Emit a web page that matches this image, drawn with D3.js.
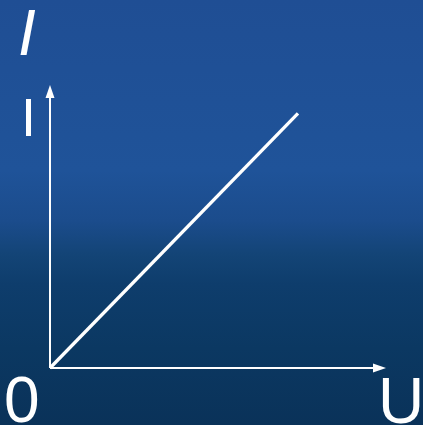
<!DOCTYPE html>
<html><head><meta charset="utf-8">
<script src="https://cdn.jsdelivr.net/npm/d3@7"></script>
<style>html,body{margin:0;padding:0;background:#0a3259;overflow:hidden}</style>
</head><body>
<script>
// Data
const uDomain = [0, 10];
const iDomain = [0, 10];
const lineU = [0, 7.38];
const lineI = [0, 9.0];
const labels = { yItalic: "I", yAxis: "I", origin: "0", xAxis: "U" };

const W = 423, H = 425;
const svg = d3.select("body").append("svg").attr("width", W).attr("height", H);
const defs = svg.append("defs");
const g = defs.append("linearGradient").attr("id","bg").attr("x1",0).attr("y1",0).attr("x2",0).attr("y2",1);
[[0,"#1f4e94"],[0.4,"#1f5399"],[0.52,"#1b4c8c"],[0.6,"#134476"],[0.67,"#0e3d6c"],[0.82,"#0b3862"],[1,"#0a3259"]]
  .forEach(([o,c])=>g.append("stop").attr("offset",o).attr("stop-color",c));
svg.append("rect").attr("width",W).attr("height",H).attr("fill","url(#bg)");

const x = d3.scaleLinear().domain(uDomain).range([50, 386]);
const y = d3.scaleLinear().domain(iDomain).range([368, 85]);

// axes
const ax = svg.append("g").attr("stroke","#fff").attr("stroke-width",2).attr("fill","#fff");
ax.append("line").attr("x1",x(0)).attr("y1",y(0)).attr("x2",x(0)).attr("y2",y(iDomain[1])+6);
ax.append("line").attr("x1",x(0)).attr("y1",y(0)).attr("x2",x(uDomain[1])-6).attr("y2",y(0));
ax.append("path").attr("stroke","none")
  .attr("d",`M${x(0)},${y(iDomain[1])} L${x(0)-4.5},${y(iDomain[1])+13} L${x(0)+4.5},${y(iDomain[1])+13}Z`);
ax.append("path").attr("stroke","none")
  .attr("d",`M${x(uDomain[1])},${y(0)} L${x(uDomain[1])-13},${y(0)-4.5} L${x(uDomain[1])-13},${y(0)+4.5}Z`);

// line
svg.append("path")
  .datum(lineU.map((u,k)=>[u,lineI[k]]))
  .attr("fill","none").attr("stroke","#fff").attr("stroke-width",3.3)
  .attr("d", d3.line().x(d=>x(d[0])).y(d=>y(d[1])));

// labels
const font = "'Liberation Sans', Arial, sans-serif";
svg.append("text").attr("x",18).attr("y",55).attr("font-family",font).attr("font-style","italic")
  .attr("font-size",64).attr("fill","#fff").text(labels.yItalic);
svg.append("text").attr("x",21).attr("y",136).attr("font-family",font)
  .attr("font-size",54).attr("fill","#fff").text(labels.yAxis);
svg.append("text").attr("x",4).attr("y",422).attr("font-family",font)
  .attr("font-size",64).attr("fill","#fff").text(labels.origin);
svg.append("text").attr("x",378).attr("y",423).attr("font-family",font)
  .attr("font-size",64).attr("fill","#fff").text(labels.xAxis);
</script>
</body></html>
